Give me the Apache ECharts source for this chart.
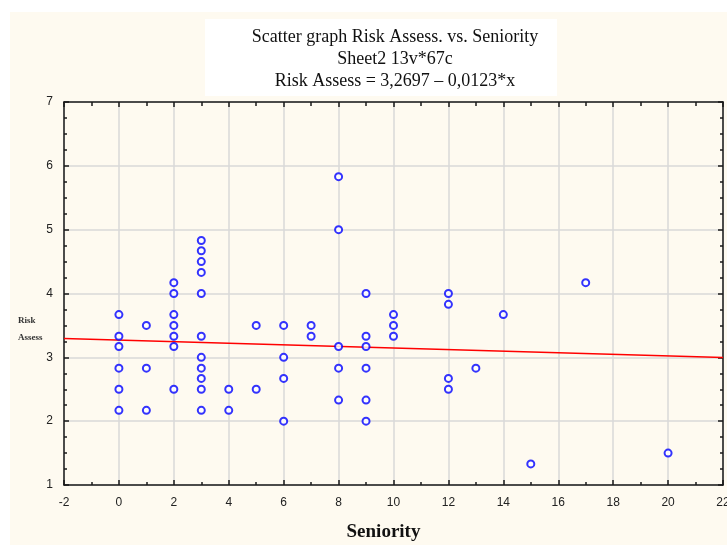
<!DOCTYPE html>
<html>
<head>
<meta charset="utf-8">
<script src="https://cdn.jsdelivr.net/npm/echarts@6/dist/echarts.min.js"></script>
<style>
html,body{margin:0;padding:0;background:#ffffff;overflow:hidden;}
#chart{width:727px;height:545px;}
</style>
</head>
<body>
<div id="chart"></div>
<script>
const titleLines = ['Scatter graph Risk Assess. vs. Seniority', 'Sheet2 13v*67c', 'Risk Assess = 3,2697 \u2013 0,0123*x'];
const xName = 'Seniority';
const yNameLines = ['Risk', 'Assess'];
const seniority = [
  0,0,0,0,0,0,
  1,1,1,
  2,2,2,2,2,2,2,
  3,3,3,3,3,3,3,3,3,3,3,
  4,4,
  5,5,
  6,6,6,6,
  7,7,
  8,8,8,8,8,
  9,9,9,9,9,9,
  10,10,10,
  12,12,12,12,
  13,14,15,17,20
];
const riskAssess = [
  3.67,3.33,3.17,2.83,2.5,2.17,
  3.5,2.83,2.17,
  4.17,4.0,3.67,3.5,3.33,3.17,2.5,
  4.83,4.67,4.5,4.33,4.0,3.33,3.0,2.83,2.67,2.5,2.17,
  2.5,2.17,
  3.5,2.5,
  3.5,3.0,2.67,2.0,
  3.5,3.33,
  5.83,5.0,3.17,2.83,2.33,
  4.0,3.33,3.17,2.83,2.33,2.0,
  3.67,3.5,3.33,
  4.0,3.83,2.67,2.5,
  2.83,3.67,1.33,4.17,1.5
];
const fitIntercept = 3.2697;
const fitSlope = -0.0123;
const xRange = [-2, 22];
const yRange = [1, 7];

const points = seniority.map((x, i) => [x, riskAssess[i]]);
const fitLine = xRange.map(x => [x, fitIntercept + fitSlope * x]);

const chart = echarts.init(document.getElementById('chart'), null, {renderer: 'canvas'});
const axisLineStyle = {color: '#1a1a1a', width: 1.5};
const labelStyle = {color: '#222', fontFamily: 'Liberation Sans, Arial, sans-serif', fontSize: 12};
chart.setOption({
  backgroundColor: '#ffffff',
  animation: false,
  graphic: [
    {type: 'rect', left: 10, top: 12, shape: {width: 717, height: 533}, style: {fill: '#fefaf0'}, z: -10, silent: true},
    {type: 'rect', left: 205, top: 19, shape: {width: 352, height: 77}, style: {fill: '#ffffff'}, z: -5, silent: true},
    {type: 'text', x: 395, y: 26, style: {text: titleLines.join('\n'), align: 'center', verticalAlign: 'top', font: '18px "Liberation Serif", "Times New Roman", serif', fill: '#111', lineHeight: 22}},
    {type: 'text', left: 18, top: 312, style: {text: yNameLines.join('\n'), font: 'bold 9px "Liberation Serif", serif', fill: '#333', lineHeight: 17}}
  ],
  grid: {left: 64, right: 4, top: 102, bottom: 60, containLabel: false, outerBoundsMode: 'none'},
  xAxis: [
    {
      type: 'value', min: xRange[0], max: xRange[1], interval: 2, position: 'bottom',
      name: xName, nameLocation: 'middle', nameGap: 38,
      nameTextStyle: {fontFamily: 'Liberation Serif, Times New Roman, serif', fontSize: 19, fontWeight: 'bold', color: '#111', padding: [0, 20, 0, 0]},
      axisLine: {show: true, onZero: false, lineStyle: axisLineStyle},
      axisTick: {show: true, inside: true, length: 5, lineStyle: {color: '#1a1a1a', width: 1.5}},
      minorTick: {show: true, splitNumber: 2, length: 3, lineStyle: {color: '#1a1a1a', width: 1.5}},
      axisLabel: Object.assign({margin: 12}, labelStyle),
      splitLine: {show: true, lineStyle: {color: '#d9d9d9', width: 1.5}}
    },
    {
      type: 'value', min: xRange[0], max: xRange[1], interval: 2, position: 'top',
      axisLine: {show: true, onZero: false, lineStyle: axisLineStyle},
      axisTick: {show: true, inside: true, length: 5, lineStyle: {color: '#1a1a1a', width: 1.5}},
      minorTick: {show: true, splitNumber: 2, length: 4, lineStyle: {color: '#1a1a1a', width: 1.5}},
      axisLabel: {show: false},
      splitLine: {show: false}
    }
  ],
  yAxis: [
    {
      type: 'value', min: yRange[0], max: yRange[1], interval: 1, position: 'left',
      axisLine: {show: true, onZero: false, lineStyle: axisLineStyle},
      axisTick: {show: true, inside: true, length: 5, lineStyle: {color: '#1a1a1a', width: 1.5}},
      minorTick: {show: true, splitNumber: 4, length: 3, lineStyle: {color: '#1a1a1a', width: 1.5}},
      axisLabel: Object.assign({margin: 11}, labelStyle),
      splitLine: {show: true, lineStyle: {color: '#d9d9d9', width: 1.5}}
    },
    {
      type: 'value', min: yRange[0], max: yRange[1], interval: 1, position: 'right',
      axisLine: {show: true, onZero: false, lineStyle: axisLineStyle},
      axisTick: {show: true, inside: true, length: 5, lineStyle: {color: '#1a1a1a', width: 1.5}},
      minorTick: {show: true, splitNumber: 4, length: 3, lineStyle: {color: '#1a1a1a', width: 1.5}},
      axisLabel: {show: false},
      splitLine: {show: false}
    }
  ],
  series: [
    {
      type: 'line', data: fitLine, xAxisIndex: 0, yAxisIndex: 0,
      showSymbol: false, symbol: 'none',
      lineStyle: {color: '#ff0000', width: 1.5}, z: 3
    },
    {
      type: 'scatter', data: points, xAxisIndex: 0, yAxisIndex: 0,
      symbol: 'emptyCircle', symbolSize: 7,
      itemStyle: {color: '#0000ff', borderColor: '#0000ff', borderWidth: 1.5}, z: 4
    }
  ]
});
</script>
</body>
</html>
